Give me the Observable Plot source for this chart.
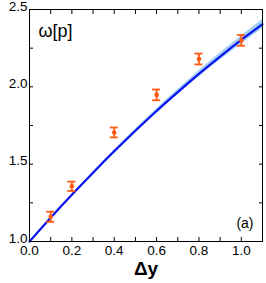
<!DOCTYPE html>
<html>
<head>
<meta charset="utf-8">
<script src="https://cdn.jsdelivr.net/npm/d3@7"></script>
<script src="https://cdn.jsdelivr.net/npm/@observablehq/plot@0.6"></script>
<style>
  html, body { margin: 0; padding: 0; background: #fff; }
  #chart { width: 266px; height: 283px; }
</style>
</head>
<body>
<div id="chart"></div>
<script>
// Measured data points with error bars
const pointX = [0.1, 0.2, 0.4, 0.6, 0.8, 1.0];
const pointY = [1.16, 1.357, 1.705, 1.948, 2.18, 2.30];
const pointErr = [0.033, 0.03, 0.032, 0.035, 0.035, 0.035];

// Theory curve with uncertainty band
const curveX = [0, 0.1, 0.2, 0.3, 0.4, 0.5, 0.6, 0.7, 0.8, 0.9, 1.0, 1.1];
const curveY = [1.000, 1.154, 1.302, 1.445, 1.583, 1.716, 1.844, 1.966, 2.084, 2.196, 2.303, 2.405];
const curveErr = [0, 0.001, 0.003, 0.005, 0.008, 0.011, 0.014, 0.017, 0.020, 0.023, 0.026, 0.030];

// Axis ticks
const xTicks = [0, 0.1, 0.2, 0.3, 0.4, 0.5, 0.6, 0.7, 0.8, 0.9, 1.0, 1.1];
const xLabels = [0, 0.2, 0.4, 0.6, 0.8, 1.0];
const yTicks = [1.0, 1.25, 1.5, 1.75, 2.0, 2.25, 2.5];
const yLabels = [1.0, 1.5, 2.0, 2.5];

const points = pointX.map((x, i) => ({x, y: pointY[i], e: pointErr[i]}));
const curve = curveX.map((x, i) => ({x, y: curveY[i], e: curveErr[i]}));

const orange = "#ff5a14";
const blue = "#0a12ee";
const band = "#a3d0f7";
const capHalf = 0.019;
const font = "'Liberation Sans', Arial, Helvetica, sans-serif";
const fmt = d3.format(".1f");
const blank = () => "";

const chart = Plot.plot({
  width: 266,
  height: 283,
  marginLeft: 29,
  marginRight: 4,
  marginTop: 9,
  marginBottom: 42,
  style: {fontFamily: font, fontSize: "13px", color: "#000", background: "#fff"},
  x: {domain: [0, 1.1]},
  y: {domain: [1.0, 2.5]},
  marks: [
    Plot.areaY(curve, {x: "x", y1: d => d.y - d.e, y2: d => d.y + d.e, fill: band, fillOpacity: 1, curve: "natural"}),
    Plot.line(curve, {x: "x", y: "y", stroke: blue, strokeWidth: 2.2, curve: "natural"}),
    Plot.ruleX(points, {x: "x", y1: d => d.y - d.e, y2: d => d.y + d.e, stroke: orange, strokeWidth: 1.8}),
    Plot.ruleY(points, {y: d => d.y - d.e, x1: d => d.x - capHalf, x2: d => d.x + capHalf, stroke: orange, strokeWidth: 1.8}),
    Plot.ruleY(points, {y: d => d.y + d.e, x1: d => d.x - capHalf, x2: d => d.x + capHalf, stroke: orange, strokeWidth: 1.8}),
    Plot.dot(points, {x: "x", y: "y", r: 2.3, fill: orange, stroke: null}),
    Plot.frame({stroke: "#000", strokeWidth: 1}),
    Plot.axisX(xTicks, {anchor: "bottom", tickSize: -4, tickFormat: blank, label: null}),
    Plot.axisX(xTicks, {anchor: "top", tickSize: -4, tickFormat: blank, label: null}),
    Plot.axisY(yTicks, {anchor: "left", tickSize: -4, tickFormat: blank, label: null}),
    Plot.axisY(yTicks, {anchor: "right", tickSize: -4, tickFormat: blank, label: null}),
    Plot.axisX(xLabels, {anchor: "bottom", tickSize: 0, tickPadding: 4, tickFormat: fmt, label: null, fontSize: 13.5}),
    Plot.axisY(yLabels, {anchor: "left", tickSize: 0, tickPadding: 2, dy: -3, tickFormat: fmt, label: null, fontSize: 13.5}),
    Plot.text(["Δy"], {frameAnchor: "bottom", dy: 33, fontSize: 19, fontWeight: "bold", fill: "#000"}),
    Plot.text(["ω[p]"], {frameAnchor: "top-left", dx: 9, dy: 15, fontSize: 18, fill: "#000", textAnchor: "start"}),
    Plot.text(["(a)"], {frameAnchor: "bottom-right", dx: -9, dy: -14, fontSize: 14, fill: "#000", textAnchor: "end"})
  ]
});

document.getElementById("chart").appendChild(chart);
</script>
</body>
</html>
